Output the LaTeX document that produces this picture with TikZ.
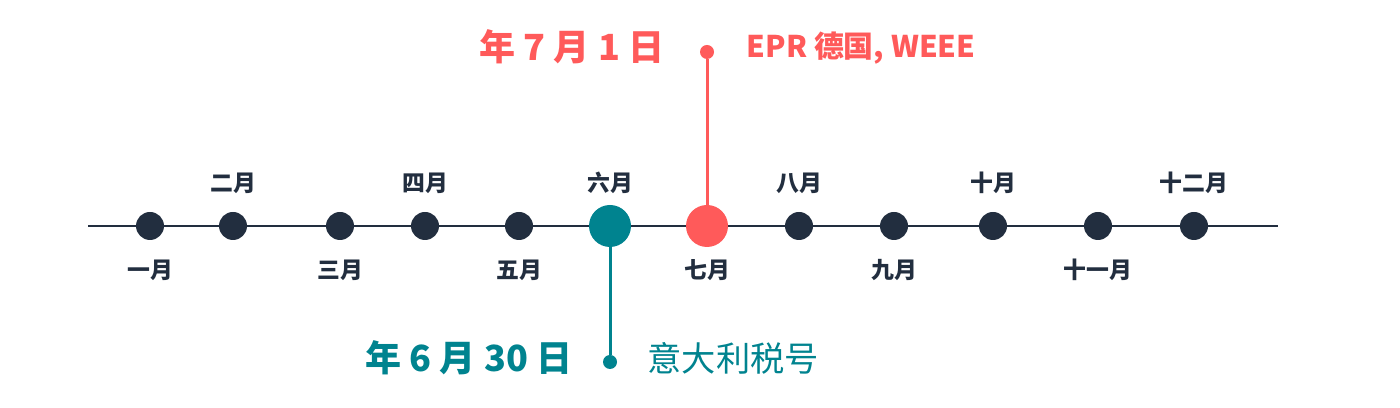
\documentclass[tikz,border=0pt]{standalone}
\usepackage{fontspec}
\setmainfont{Noto Sans CJK SC}
\newfontfamily\datefont[WordSpace=1.0]{Noto Sans CJK SC}
\usetikzlibrary{positioning}
\definecolor{navy}{HTML}{222E3F}
\definecolor{tlteal}{HTML}{00838F}
\definecolor{tlred}{HTML}{FF5A5A}
\tikzset{
  month/.style={circle,fill=navy,inner sep=0pt,minimum size=0.56cm},
  key/.style={circle,inner sep=0pt,minimum size=0.84cm},
  pin/.style={circle,inner sep=0pt,minimum size=0.28cm},
  mlbl/.style={on grid, font=\bfseries\fontsize{13}{15}\selectfont, text=navy, inner sep=0pt},
  date/.style={font=\datefont\bfseries\fontsize{20.5}{24}\selectfont, inner sep=0pt},
  note/.style={font=\fontsize{19.5}{22}\selectfont, inner sep=0pt},
  stem/.style={line width=1.7pt}
}
\begin{document}
\begin{tikzpicture}[x=0.02cm, y=0.02cm, node distance=0.86cm]
\useasboundingbox (0,0) rectangle (1400,408);

% timeline
\coordinate (start) at (88,182);
\coordinate (end) at (1278,182);
\draw[navy, line width=0.6pt] (start) -- (end);

\node[month] (m1) at (150,182) {};
\node[month] (m2) at (233,182) {};
\node[month] (m3) at (340,182) {};
\node[month] (m4) at (425,182) {};
\node[month] (m5) at (519,182) {};
\node[key, fill=tlteal] (m6) at (610,182) {};
\node[key, fill=tlred] (m7) at (707,182) {};
\node[month] (m8) at (799,182) {};
\node[month] (m9) at (894,182) {};
\node[month] (m10) at (993,182) {};
\node[month] (m11) at (1098,182) {};
\node[month] (m12) at (1194,182) {};

\node[mlbl, below=0.88cm of m1] (l1) {一月};
\node[mlbl, above=of m2] (l2) {二月};
\node[mlbl, below=0.88cm of m3] (l3) {三月};
\node[mlbl, above=of m4] (l4) {四月};
\node[mlbl, below=0.88cm of m5] (l5) {五月};
\node[mlbl, above=of m6] (l6) {六月};
\node[mlbl, below=0.88cm of m7] (l7) {七月};
\node[mlbl, above=of m8] (l8) {八月};
\node[mlbl, below=0.88cm of m9] (l9) {九月};
\node[mlbl, above=of m10] (l10) {十月};
\node[mlbl, below=0.88cm of m11] (l11) {十一月};
\node[mlbl, above=of m12] (l12) {十二月};

% July 1st
\node[pin, fill=tlred] (epr) at (707,356) {};
\draw[tlred, stem] (m7) -- (epr);
\node[date, text=tlred, left=0.7cm of epr, yshift=0.1cm] (d7) {年 7 月 1 日};
\node[note, font=\bfseries\fontsize{17}{20}\selectfont, text=tlred, right=0.64cm of epr, yshift=0.08cm] (n7) {EPR 德国, WEEE};

% June 30th
\node[pin, fill=tlteal] (vat) at (610,46) {};
\draw[tlteal, stem] (m6) -- (vat);
\node[date, text=tlteal, left=0.6cm of vat, yshift=0.08cm] (d6) {年 6 月 30 日};
\node[note, text=tlteal, right=0.6cm of vat, yshift=0.08cm] (n6) {意大利税号};
\end{tikzpicture}
\end{document}
